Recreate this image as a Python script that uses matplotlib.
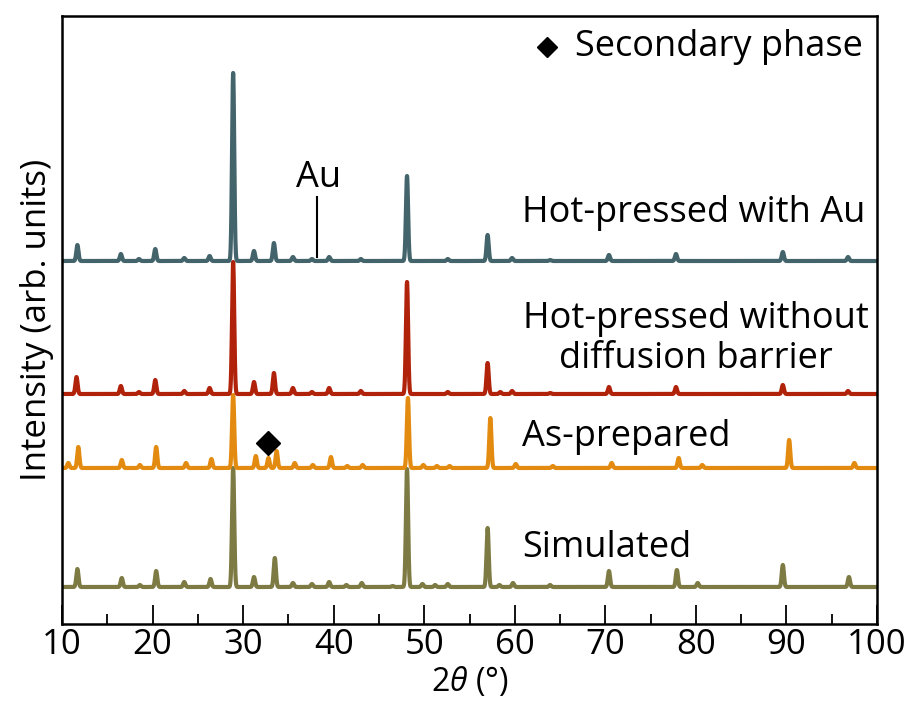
import numpy as np
import matplotlib
matplotlib.use("Agg")
import matplotlib.pyplot as plt

plt.rcParams['font.family'] = ['Open Sans', 'DejaVu Sans']
plt.rcParams['mathtext.fontset'] = 'custom'
plt.rcParams['mathtext.it'] = 'Open Sans:italic'
plt.rcParams['mathtext.rm'] = 'Open Sans'

# ---- data: peak positions (2theta, deg) and intensities (arb.) ----
sim_pos = [11.7, 16.6, 18.6, 20.4, 23.5, 26.4, 28.9, 31.2, 33.5, 35.5, 37.6, 39.5, 41.4, 43.1,
           46.5, 48.1, 49.8, 51.2, 52.6, 57.0, 58.3, 59.8, 63.9, 70.4, 77.9, 80.2, 89.6, 96.9]
sim_int = [18, 9, 2, 16, 5, 8, 119, 10, 29, 4, 3, 5, 2, 4,
           1, 118, 3, 2, 3, 59, 2, 4, 2, 16, 17, 4, 22, 10]

asp_pos = [10.7, 11.8, 16.6, 18.6, 20.4, 23.7, 26.5, 28.9, 31.4, 32.8, 33.7, 35.7, 37.7, 39.7,
           41.5, 43.2, 48.2, 49.9, 51.4, 52.8, 57.3, 60.1, 64.2, 70.7, 78.1, 80.7, 90.3, 97.5]
asp_int = [5, 21, 8, 3, 21, 5, 9, 73, 12, 10, 17, 5, 3, 11,
           2, 3, 70, 3, 2, 2, 50, 4, 2, 5, 10, 3, 28, 5]

hpn_pos = [11.6, 16.5, 18.5, 20.3, 23.5, 26.3, 28.9, 31.2, 33.4, 35.5, 37.6, 39.5, 43.0,
           48.1, 52.6, 57.0, 58.4, 59.7, 63.9, 70.4, 77.8, 89.6, 96.8]
hpn_int = [17, 8, 2, 14, 3, 6, 132, 12, 21, 6, 2, 6, 3,
           112, 2, 31, 2, 3, 1, 7, 7, 9, 3]

hpa_pos = [11.7, 16.5, 18.5, 20.3, 23.5, 26.3, 28.9, 31.2, 33.4, 35.5, 37.6, 39.5, 43.0,
           48.1, 52.6, 57.0, 59.7, 63.9, 70.4, 77.8, 89.6, 96.8]
hpa_int = [16, 7, 2, 12, 3, 5, 188, 10, 18, 4, 2, 4, 2,
           85, 2, 26, 3, 1, 6, 7, 9, 4]

offsets = [0, 119, 193, 326]
colors = ['#7d7a43', '#e38b10', '#b1220b', '#44646c']
labels = ['Simulated', 'As-prepared', 'Hot-pressed without\ndiffusion barrier', 'Hot-pressed with Au']

x = np.linspace(10, 100, 9001)

def pattern(pos, inten, sigma=0.12):
    y = np.zeros_like(x)
    for p, h in zip(pos, inten):
        y += h * np.exp(-0.5 * ((x - p) / sigma) ** 2)
    return y

fig = plt.figure(figsize=(9.18, 7.15), dpi=100)
ax = fig.add_axes([62/918, 1-624/715, (877-62)/918, (624-16)/715])

series = [(sim_pos, sim_int), (asp_pos, asp_int), (hpn_pos, hpn_int), (hpa_pos, hpa_int)]
for (pos, inten), off, c in zip(series, offsets, colors):
    ax.plot(x, pattern(pos, inten) + off, color=c, lw=3.0, solid_joinstyle='round')

ax.set_xlim(10, 100)
ax.set_ylim(-37, 571)
ax.set_yticks([])
ax.set_xticks(np.arange(10, 101, 10))
ax.set_xticks(np.arange(15, 100, 10), minor=True)
ax.tick_params(axis='x', which='major', direction='in', length=14, width=1.3, labelsize=25, pad=3)
ax.tick_params(axis='x', which='minor', direction='in', length=7, width=1.3)
for s in ax.spines.values():
    s.set_linewidth(1.8)

ax.set_xlabel(r'2$\it{\theta}$ (°)', fontsize=23, labelpad=2)
ax.set_ylabel('Intensity (arb. units)', fontsize=25, labelpad=6)

# sample labels
fs = 26
ax.text(60.8, 374, labels[3], fontsize=fs, ha='left', va='center')
ax.text(80.0, 248, labels[2], fontsize=fs, ha='center', va='center',
        multialignment='center', linespacing=1.15)
ax.text(60.8, 150, labels[1], fontsize=fs, ha='left', va='center')
ax.text(60.8, 39, labels[0], fontsize=fs, ha='left', va='center')

# Au annotation
ax.plot([38.2, 38.2], [330, 390], color='black', lw=1.5)
ax.text(38.3, 409, 'Au', fontsize=fs, ha='center', va='center')

# secondary phase marker
ax.plot([32.8], [144], marker='D', markersize=12, color='black', linestyle='none')
ax.plot([63.6], [540], marker='D', markersize=10, color='black', linestyle='none')
ax.text(66.6, 540, 'Secondary phase', fontsize=fs, ha='left', va='center')

fig.savefig('out.png', dpi=100)
